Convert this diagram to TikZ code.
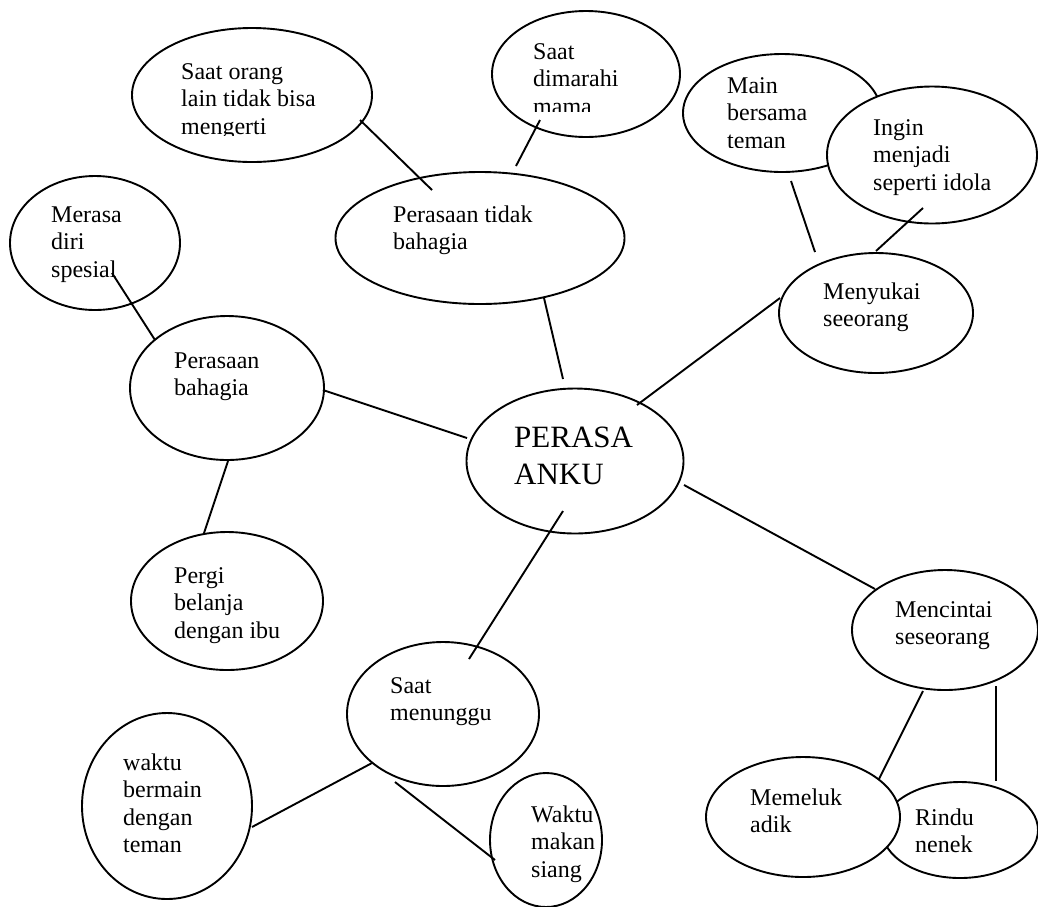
\documentclass[tikz,border=0pt]{standalone}
\usepackage{fontspec}
\setmainfont{Liberation Serif}
\usetikzlibrary{shapes.geometric}
\newcommand{\mlines}[1]{\begin{tabular}[t]{@{}l@{}}#1\end{tabular}}
\begin{document}
\begin{tikzpicture}[x=1pt,y=-1pt,
  bub/.style={ellipse,draw,fill=white,line width=1.9pt,inner sep=0pt},
  txt/.style={anchor=base west,inner sep=0pt,font=\fontsize{24}{27.5}\selectfont},
  bigtxt/.style={anchor=base west,inner sep=0pt,font=\fontsize{31}{37}\selectfont},
  link/.style={line width=1.9pt}]
\useasboundingbox[fill=white] (0,0) rectangle (1038,906);

% Saat orang lain tidak bisa mengerti
\node[bub,minimum width=240,minimum height=134] (so) at (252,95) {};
\begin{scope}
  \clip (140,30) rectangle (370,135);
  \node[txt] (tso) at (181,79) {\mlines{Saat orang\\lain tidak bisa\\mengerti}};
\end{scope}

% Saat dimarahi mama
\node[bub,minimum width=188,minimum height=126] (sd) at (586,74) {};
\begin{scope}
  \clip (500,20) rectangle (680,111);
  \node[txt] (tsd) at (533,59) {\mlines{Saat\\dimarahi\\mama}};
\end{scope}

% Perasaan tidak bahagia
\node[bub,minimum width=289,minimum height=132] (ptb) at (480,238) {};
\node[txt] (tptb) at (393,222) {\mlines{Perasaan tidak\\bahagia}};

% Merasa diri spesial
\node[bub,minimum width=170,minimum height=134] (mds) at (95,243) {};
\node[txt] (tmds) at (51,222) {\mlines{Merasa\\diri\\spesial}};

% Perasaan bahagia
\node[bub,minimum width=194,minimum height=144] (pb) at (227,388) {};
\node[txt] (tpb) at (174,368) {\mlines{Perasaan\\bahagia}};

% Pergi belanja dengan ibu
\node[bub,minimum width=192,minimum height=138] (pg) at (227,601) {};
\node[txt] (tpg) at (174,583) {\mlines{Pergi\\belanja\\dengan ibu}};

% PERASAANKU
\node[bub,minimum width=217,minimum height=145] (ctr) at (575,461) {};
\node[bigtxt] (tctr) at (514,447) {\mlines{PERASA\\ANKU}};

% Main bersama teman
\node[bub,minimum width=198,minimum height=118] (mb) at (782,113) {};
\begin{scope}
  \clip (690,55) rectangle (870,147);
  \node[txt] (tmb) at (727,93) {\mlines{Main\\bersama\\teman}};
\end{scope}

% Ingin menjadi seperti idola
\node[bub,minimum width=210,minimum height=137] (ing) at (932,155) {};
\node[txt] (ting) at (873,135) {\mlines{Ingin\\menjadi\\seperti idola}};

% Menyukai seeorang
\node[bub,minimum width=194,minimum height=120] (ms) at (876,313) {};
\node[txt] (tms) at (823,299) {\mlines{Menyukai\\seeorang}};

% Mencintai seseorang
\node[bub,minimum width=186,minimum height=120] (mc) at (945,630) {};
\node[txt] (tmc) at (895,617) {\mlines{Mencintai\\seseorang}};

% Rindu nenek
\node[bub,minimum width=156,minimum height=96] (rin) at (960,830) {};
\node[txt] (trin) at (915,825) {\mlines{Rindu\\nenek}};

% Memeluk adik
\node[bub,minimum width=194,minimum height=120] (mem) at (803,817) {};
\node[txt] (tmem) at (750,805) {\mlines{Memeluk\\adik}};

% Saat menunggu
\node[bub,minimum width=192,minimum height=144] (sm) at (443,714) {};
\node[txt] (tsm) at (390,693) {\mlines{Saat\\menunggu}};

% waktu bermain dengan teman
\node[bub,minimum width=170,minimum height=186] (wb) at (167,806) {};
\node[txt] (twb) at (123,770) {\mlines{waktu\\bermain\\dengan\\teman}};

% Waktu makan siang
\node[bub,minimum width=112,minimum height=134] (wm) at (546,840) {};
\node[txt] (twm) at (531,822) {\mlines{Waktu\\makan\\siang}};

% connector end points
\coordinate (a1) at (360,120); \coordinate (b1) at (432,190);
\coordinate (a2) at (540,120); \coordinate (b2) at (516,166);
\coordinate (a3) at (544,298); \coordinate (b3) at (563,379);
\coordinate (a4) at (112,273); \coordinate (b4) at (155,340);
\coordinate (a5) at (323,390); \coordinate (b5) at (467,438);
\coordinate (a6) at (228,461); \coordinate (b6) at (204,533);
\coordinate (a7) at (791,181); \coordinate (b7) at (815,252);
\coordinate (a8) at (923,208); \coordinate (b8) at (876,251);
\coordinate (a9) at (780,298); \coordinate (b9) at (637,405);
\coordinate (a10) at (684,485); \coordinate (b10) at (875,589);
\coordinate (a11) at (923,691); \coordinate (b11) at (879,779);
\coordinate (a12) at (996,686); \coordinate (b12) at (996,781);
\coordinate (a13) at (563,511); \coordinate (b13) at (469,659);
\coordinate (a14) at (372,763); \coordinate (b14) at (252,827);
\coordinate (a15) at (395,782); \coordinate (b15) at (495,860);

\foreach \i in {1,...,15} {\draw[link] (a\i) -- (b\i);}
\end{tikzpicture}
\end{document}
